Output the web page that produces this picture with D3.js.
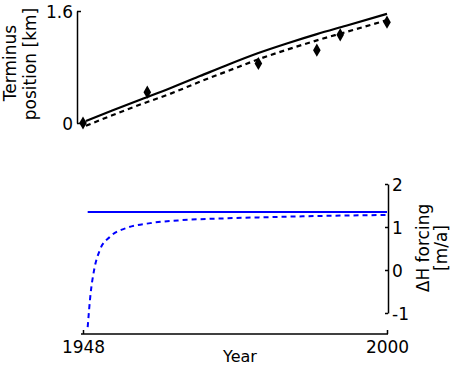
<!DOCTYPE html>
<html>
<head>
<meta charset="utf-8">
<script src="https://cdn.jsdelivr.net/npm/d3@7"></script>
<style>
  body { margin: 0; background: #fff; }
  text { font-family: "DejaVu Sans", sans-serif; }
</style>
</head>
<body>
<div id="chart"></div>
<script>
// terminus position, model runs (km)
var solidYears = [1948.5, 1953, 1958, 1963, 1968, 1973, 1978, 1983, 1988, 1993, 2000];
var solidKm    = [0.03, 0.18, 0.34, 0.50, 0.67, 0.84, 1.00, 1.14, 1.27, 1.39, 1.56];
var dashKm     = [-0.04, 0.11, 0.27, 0.42, 0.59, 0.75, 0.91, 1.05, 1.18, 1.30, 1.47];

// observed terminus positions
var obsYears = [1948, 1959, 1978, 1988, 1992, 2000];
var obsKm    = [0, 0.44, 0.85, 1.04, 1.26, 1.44];

// dH forcing (m/a)
var forceSolidYears = [1948.8, 2000];
var forceSolid      = [1.35, 1.35];
var forceDashYears  = [1948.8, 1949.3, 1949.9, 1950.9, 1952.6, 1955.5, 1959.5, 1965, 1972, 1980, 1990, 2000];
var forceDash       = [-1.33, -0.55, 0, 0.47, 0.77, 0.98, 1.09, 1.16, 1.2, 1.23, 1.26, 1.28];

var topTicks = [0, 1.6];
var botTicks = [-1, 0, 1, 2];
var yearTicks = [1948, 2000];

var width = 454, height = 367;

var svg = d3.select("#chart").append("svg")
    .attr("width", width)
    .attr("height", height);

var x = d3.scaleLinear().domain([1948, 2000]).range([83, 387]);

// ---- top panel
var yTop = d3.scaleLinear().domain([0, 1.6]).range([123, 11]);

svg.append("g")
    .attr("transform", "translate(77,0)")
    .call(d3.axisRight(yTop).tickValues(topTicks).tickSize(4).tickSizeOuter(0)
        .tickFormat(function(d) { return d === 0 ? "0" : d3.format(".1f")(d); }))
    .call(function(g) {
        g.select(".domain").attr("stroke", "#000").attr("stroke-width", 1.5);
        g.selectAll(".tick line").attr("stroke", "#000").attr("stroke-width", 1.5);
        g.selectAll(".tick text")
            .attr("x", -4).attr("dy", "0.36em")
            .attr("text-anchor", "end")
            .attr("font-size", 17).attr("font-family", "DejaVu Sans").attr("fill", "#000");
    });

svg.append("text")
    .attr("transform", "translate(16,63) rotate(-90)")
    .attr("text-anchor", "middle")
    .attr("font-size", 17)
    .text("Terminus");
svg.append("text")
    .attr("transform", "translate(36,64) rotate(-90)")
    .attr("text-anchor", "middle")
    .attr("font-size", 17)
    .text("position [km]");

var lineTop = d3.line()
    .x(function(d) { return x(d[0]); })
    .y(function(d) { return yTop(d[1]); })
    .curve(d3.curveMonotoneX);

svg.append("path")
    .datum(d3.zip(solidYears, solidKm))
    .attr("d", lineTop)
    .attr("fill", "none")
    .attr("stroke", "#000")
    .attr("stroke-width", 2.2);

svg.append("path")
    .datum(d3.zip(solidYears, dashKm))
    .attr("d", lineTop)
    .attr("fill", "none")
    .attr("stroke", "#000")
    .attr("stroke-width", 2.2)
    .attr("stroke-dasharray", "5,4");

svg.selectAll(".obs")
    .data(d3.zip(obsYears, obsKm))
    .enter().append("path")
    .attr("class", "obs")
    .attr("d", d3.symbol(d3.symbolDiamond, 50))
    .attr("transform", function(d) { return "translate(" + x(d[0]) + "," + yTop(d[1]) + ")"; })
    .attr("fill", "#000");

// ---- bottom panel
var yBot = d3.scaleLinear().domain([-1, 2]).range([313, 184]);

svg.append("g")
    .attr("transform", "translate(388,0)")
    .call(d3.axisLeft(yBot).tickValues(botTicks).tickSize(3).tickSizeOuter(0)
        .tickFormat(function(d) { return String(d); }))
    .call(function(g) {
        g.select(".domain").attr("stroke", "#000").attr("stroke-width", 1.5);
        g.selectAll(".tick line").attr("stroke", "#000").attr("stroke-width", 1.5);
        g.selectAll(".tick text")
            .attr("x", 4).attr("dy", "0.36em")
            .attr("text-anchor", "start")
            .attr("font-size", 17).attr("font-family", "DejaVu Sans").attr("fill", "#000");
    });

svg.append("text")
    .attr("transform", "translate(429,248) rotate(-90)")
    .attr("text-anchor", "middle")
    .attr("font-size", 17)
    .text("ΔH forcing");
svg.append("text")
    .attr("transform", "translate(447,248) rotate(-90)")
    .attr("text-anchor", "middle")
    .attr("font-size", 17)
    .text("[m/a]");

svg.append("g")
    .attr("transform", "translate(0,334)")
    .call(d3.axisTop(x).tickValues(yearTicks).tickSize(4).tickSizeOuter(0).tickFormat(d3.format("d")))
    .call(function(g) {
        g.select(".domain").attr("d", "M81,0H388").attr("stroke", "#000").attr("stroke-width", 1.5);
        g.selectAll(".tick line").attr("stroke", "#000").attr("stroke-width", 1.5);
        g.selectAll(".tick text")
            .attr("y", 19)
            .attr("font-size", 17).attr("font-family", "DejaVu Sans").attr("fill", "#000");
    });

svg.append("text")
    .attr("x", 240)
    .attr("y", 362)
    .attr("text-anchor", "middle")
    .attr("font-size", 16)
    .text("Year");

var lineBot = d3.line()
    .x(function(d) { return x(d[0]); })
    .y(function(d) { return yBot(d[1]); })
    .curve(d3.curveMonotoneX);

svg.append("path")
    .datum(d3.zip(forceSolidYears, forceSolid))
    .attr("d", lineBot)
    .attr("fill", "none")
    .attr("stroke", "#0000ff")
    .attr("stroke-width", 2);

svg.append("path")
    .datum(d3.zip(forceDashYears, forceDash))
    .attr("d", lineBot)
    .attr("fill", "none")
    .attr("stroke", "#0000ff")
    .attr("stroke-width", 2)
    .attr("stroke-dasharray", "5,4");
</script>
</body>
</html>
